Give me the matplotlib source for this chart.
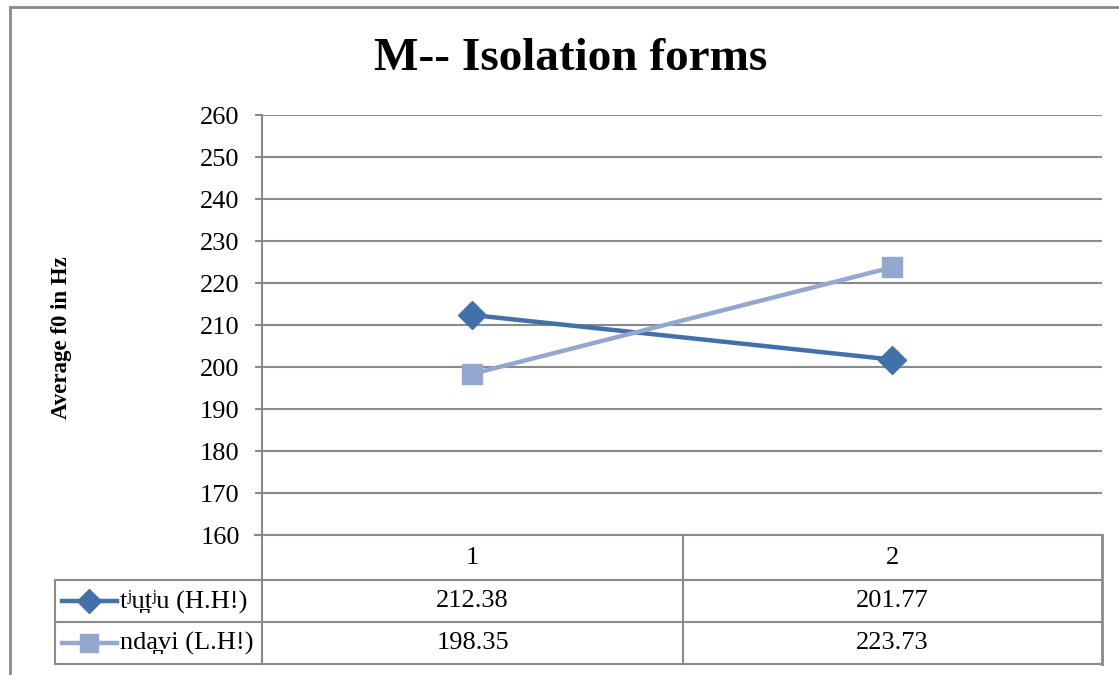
import matplotlib
matplotlib.use("Agg")
import matplotlib.pyplot as plt
from matplotlib.lines import Line2D

plt.rcParams['font.family'] = ['Liberation Serif', 'DejaVu Serif']

# data
categories = ['1', '2']
series_names = ['t\u02b2u\u032at\u02b2u (H.H!)', 'nda\u032avi (L.H!)']
tiutiu = [212.38, 201.77]
ndavi = [198.35, 223.73]
y_ticks = list(range(160, 261, 10))

W, H = 1119, 675
dark = '#4270AA'
light = '#94A7CF'
grey = '#8A8A8A'

fig = plt.figure(figsize=(W / 100, H / 100), dpi=100)

def fx(x):
    return x / W

def fy(y):
    return 1 - y / H

# plot area in pixels
L, R, T, B = 262, 1102, 115, 535
ax = fig.add_axes([fx(L), fy(B), fx(R) - fx(L), fy(T) - fy(B)])

xs = [1, 2]
ax.plot(xs, tiutiu, color=dark, lw=3.2, marker='D', ms=14, zorder=3)
ax.plot(xs, ndavi, color=light, lw=3.2, marker='s', ms=14, zorder=3)

ax.set_xlim(0.5, 2.5)
ax.set_ylim(160, 260)
ax.set_yticks(y_ticks)
ax.set_xticks([])
ax.tick_params(axis='y', length=5, width=1.5, color=grey, labelsize=19, pad=11)
ax.yaxis.grid(True, color=grey, lw=1.5)
ax.set_axisbelow(True)
for s in ['top', 'right', 'bottom']:
    ax.spines[s].set_visible(False)
ax.spines['left'].set_color(grey)
ax.spines['left'].set_linewidth(1.5)
ax.set_ylabel('Average f0 in Hz', fontsize=16.5, fontweight='bold')
ax.yaxis.set_label_coords((72 - L) / (R - L), 1 - (338 - T) / (B - T))

fig.text(fx(571), fy(59), 'M-- Isolation forms', ha='center', va='center',
         fontsize=34, fontweight='bold')

# data table below the plot
def hline(y, x0, x1, lw=1.5):
    fig.add_artist(Line2D([fx(x0), fx(x1)], [fy(y), fy(y)], color=grey, lw=lw))

def vline(x, y0, y1, lw=1.5):
    fig.add_artist(Line2D([fx(x), fx(x)], [fy(y0), fy(y1)], color=grey, lw=lw))

rows = [535, 580, 622, 664]
legend_left = 55
col_x = [L, 683, R]
hline(rows[0], 255, R)
for y in rows[1:]:
    hline(y, legend_left, R)
vline(L, rows[0], rows[3])
vline(683, rows[0], rows[3])
vline(R, rows[0], rows[3], lw=2)
vline(legend_left, rows[1], rows[3])

centers = [(col_x[i] + col_x[i + 1]) / 2 for i in range(2)]
for c, cat in zip(centers, categories):
    fig.text(fx(c), fy((rows[0] + rows[1]) / 2), cat, ha='center', va='center', fontsize=19)

series = [(tiutiu, dark, 'D', 12), (ndavi, light, 's', 13)]
for r, (name, (vals, col, mk, ms)) in enumerate(zip(series_names, series)):
    yc = (rows[r + 1] + rows[r + 2]) / 2
    fig.add_artist(Line2D([fx(62), fx(117)], [fy(yc), fy(yc)], color=col, lw=3.2))
    fig.add_artist(Line2D([fx(89.5)], [fy(yc)], color=col, marker=mk, ms=ms, lw=0))
    fig.text(fx(120), fy(yc), name, ha='left', va='center', fontsize=19)
    for c, v in zip(centers, vals):
        fig.text(fx(c), fy(yc), f'{v:.2f}', ha='center', va='center', fontsize=19)

# outer chart border
fig.add_artist(Line2D([fx(10), fx(10)], [fy(7), 0], color=grey, lw=2))
fig.add_artist(Line2D([fx(10), 1], [fy(7), fy(7)], color=grey, lw=2))

fig.savefig('out.png', dpi=100)
